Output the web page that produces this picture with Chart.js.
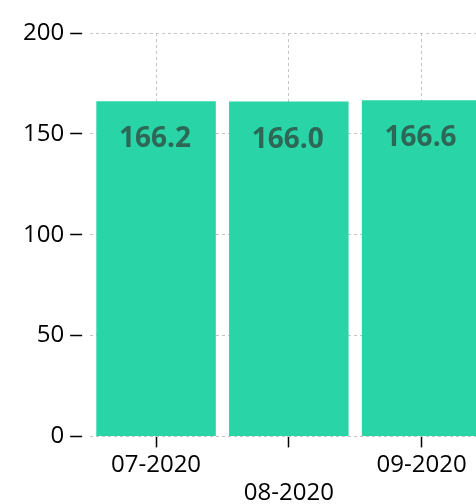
<!DOCTYPE html>
<html>
<head>
<meta charset="utf-8">
<script src="https://cdn.jsdelivr.net/npm/chart.js@4"></script>
<style>
  html, body { margin: 0; padding: 0; background: white; overflow: hidden; }
  #wrap { width: 476px; height: 504px; overflow: hidden; }
</style>
</head>
<body>
<div id="wrap"><canvas id="barChart" width="500" height="511"></canvas></div>
<script>
const months = ['07-2020', '08-2020', '09-2020'];
const values = [166.2, 166.0, 166.6];
const yTicks = [0, 50, 100, 150, 200];

const barColor = '#29d4a7';
const labelColor = '#2d6857';
const gridColor = '#c4c4c4';

// value labels inside the top of each bar
const barLabels = {
    id: 'barLabels',
    afterDatasetsDraw(chart) {
        const ctx = chart.ctx;
        const meta = chart.getDatasetMeta(0);
        ctx.save();
        ctx.font = 'bold 28px "Open Sans"';
        ctx.fillStyle = labelColor;
        ctx.textAlign = 'center';
        ctx.textBaseline = 'middle';
        meta.data.forEach(function (bar, i) {
            ctx.fillText(values[i].toFixed(1), bar.x - 1, bar.y + 38);
        });
        ctx.restore();
    }
};

const ctx = document.getElementById('barChart').getContext('2d');
const chart = new Chart(ctx, {
    type: 'bar',
    data: {
        labels: months,
        datasets: [{
            data: values,
            backgroundColor: barColor,
            borderWidth: 0,
            categoryPercentage: 1,
            barPercentage: 0.9
        }]
    },
    options: {
        responsive: false,
        animation: false,
        devicePixelRatio: 1,
        layout: { padding: { left: 17, top: 33, right: 12, bottom: 0 } },
        plugins: {
            legend: { display: false },
            tooltip: { enabled: false }
        },
        scales: {
            x: {
                grid: {
                    offset: false,
                    color: gridColor,
                    tickColor: '#000',
                    tickLength: 11,
                    tickWidth: 1.5,
                    tickBorderDash: []
                },
                border: { display: false, dash: [3, 3] },
                ticks: {
                    color: '#000',
                    padding: 3,
                    maxRotation: 0,
                    autoSkip: false,
                    font: { family: '"Open Sans"', size: 24, lineHeight: 1.2 },
                    // stagger every second label onto a second line
                    callback: function (val, i) {
                        const lab = this.getLabelForValue(val);
                        return i % 2 === 1 ? ['', lab] : lab;
                    }
                }
            },
            y: {
                min: 0,
                max: 200,
                afterBuildTicks: function (axis) {
                    axis.ticks = yTicks.map(v => ({ value: v }));
                },
                grid: {
                    color: gridColor,
                    tickColor: '#000',
                    tickLength: 19.5,
                    tickWidth: 1.5,
                    tickBorderDash: [12, 100]
                },
                border: { display: false, dash: [3, 3] },
                ticks: {
                    color: '#000',
                    padding: 6,
                    font: { family: '"Open Sans"', size: 24 }
                }
            }
        }
    },
    plugins: [barLabels]
});
</script>
</body>
</html>
